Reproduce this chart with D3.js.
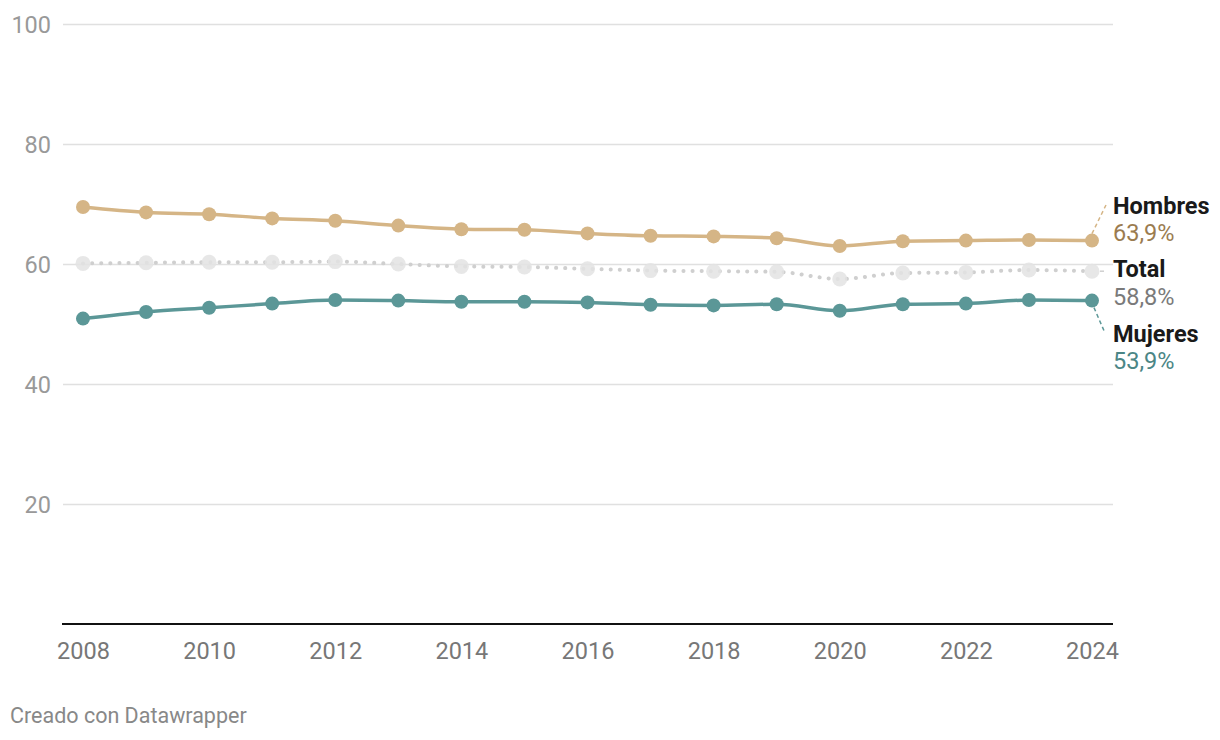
<!DOCTYPE html>
<html><head><meta charset="utf-8">
<script src="https://cdn.jsdelivr.net/npm/d3@7"></script>
<style>
html,body{margin:0;padding:0;background:#fff;}
svg{display:block;font-family:Roboto,"Noto Sans",sans-serif;}
</style></head>
<body>
<svg id="c" width="1220" height="740"></svg>
<script>
const years = [2008,2009,2010,2011,2012,2013,2014,2015,2016,2017,2018,2019,2020,2021,2022,2023,2024];
const hombres = [69.5,68.6,68.3,67.6,67.2,66.4,65.8,65.7,65.1,64.7,64.6,64.3,63.0,63.8,63.9,64.0,63.9];
const total   = [60.1,60.2,60.3,60.3,60.4,60.0,59.6,59.5,59.2,58.9,58.8,58.7,57.5,58.5,58.6,59.0,58.8];
const mujeres = [50.9,52.0,52.7,53.4,54.0,53.9,53.7,53.7,53.6,53.2,53.1,53.3,52.2,53.3,53.4,54.0,53.9];
const yTicks = [20,40,60,80,100];
const xTicks = [2008,2010,2012,2014,2016,2018,2020,2022,2024];
const labels = [
  {name:"Hombres", value:"63,9%"},
  {name:"Total",   value:"58,8%"},
  {name:"Mujeres", value:"53,9%"}
];

const svg = d3.select("#c");
const x = d3.scaleLinear().domain([2008,2024]).range([83,1092]);
const y = d3.scaleLinear().domain([0,100]).range([624,24]);

// gridlines
const grid = svg.append("g").call(d3.axisLeft(y).tickValues(yTicks).tickSize(-1050).tickFormat(d=>d))
  .attr("transform","translate(63,0)");
grid.select(".domain").remove();
grid.selectAll(".tick line").attr("stroke","#e0e0e0").attr("stroke-width",1.5);
grid.selectAll(".tick text").attr("x",-12).attr("dy","0.35em").attr("fill","#999")
  .style("font-size","23.5px").style("font-family","Roboto");

// x axis
const xa = svg.append("g").attr("transform","translate(0,624)")
  .call(d3.axisBottom(x).tickValues(xTicks).tickSize(0).tickFormat(d3.format("d")));
xa.select(".domain").remove();
xa.selectAll(".tick text").attr("y",18).attr("dy","0.71em").attr("fill","#777")
  .style("font-size","23.5px").style("font-family","Roboto");
svg.append("line").attr("x1",62).attr("x2",1113).attr("y1",y(0)).attr("y2",y(0))
  .attr("stroke","#111").attr("stroke-width",2);

const line = d3.line().x((d,i)=>x(years[i])).y(d=>y(d)).curve(d3.curveMonotoneX);

// total (dotted)
svg.append("path").datum(total).attr("d",line).attr("fill","none")
  .attr("stroke","#cfcfcf").attr("stroke-width",4).attr("stroke-linecap","round")
  .attr("stroke-dasharray","0.1 9");
svg.append("g").selectAll("circle").data(total).join("circle")
  .attr("cx",(d,i)=>x(years[i])).attr("cy",d=>y(d)).attr("r",7.5)
  .attr("fill","#e3e3e3").attr("fill-opacity",0.85);

function series(data,color){
  svg.append("path").datum(data).attr("d",line).attr("fill","none")
    .attr("stroke",color).attr("stroke-width",3.5);
  svg.append("g").selectAll("circle").data(data).join("circle")
    .attr("cx",(d,i)=>x(years[i])).attr("cy",d=>y(d)).attr("r",7).attr("fill",color);
}
series(hombres,"#d5b586");
series(mujeres,"#5b9797");

// leader lines
const lx = x(2024);
svg.append("line").attr("x1",lx).attr("y1",y(hombres[16])-7).attr("x2",lx+14).attr("y2",205)
  .attr("stroke","#d5b586").attr("stroke-width",1.5).attr("stroke-dasharray","4 3");
svg.append("line").attr("x1",lx+8).attr("y1",y(total[16])).attr("x2",lx+14).attr("y2",y(total[16]))
  .attr("stroke","#cfcfcf").attr("stroke-width",1.5).attr("stroke-dasharray","4 3");
svg.append("line").attr("x1",lx+2).attr("y1",y(mujeres[16])+7).attr("x2",lx+13).attr("y2",333)
  .attr("stroke","#5b9797").attr("stroke-width",1.5).attr("stroke-dasharray","4 3");

// labels
const labelY = [[214,241],[277,305],[342,369]];
const valColors = ["#9b7c50","#7a7a7a","#4b8686"];
labels.forEach((l,i)=>{
  svg.append("text").attr("x",1113).attr("y",labelY[i][0]).text(l.name)
    .attr("fill","#1a1a1a").style("font-weight","700").style("font-size","23.5px");
  svg.append("text").attr("x",1113).attr("y",labelY[i][1]).text(l.value)
    .attr("fill",valColors[i]).style("font-size","23.5px");
});

svg.append("text").attr("x",10).attr("y",723).text("Creado con Datawrapper")
  .attr("fill","#888").style("font-size","21.5px");
</script>
</body></html>
